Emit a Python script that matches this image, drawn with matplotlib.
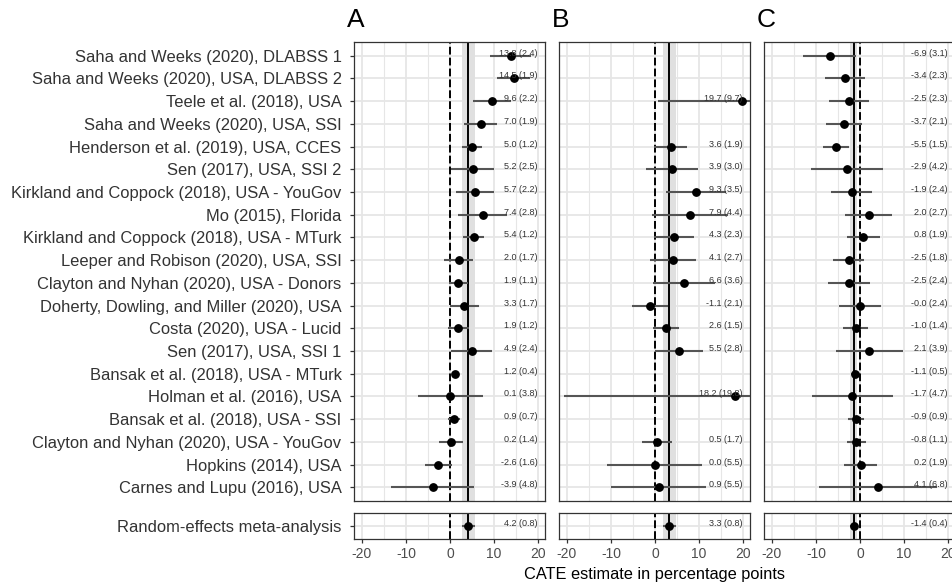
import matplotlib
matplotlib.use("Agg")
import matplotlib.pyplot as plt
import numpy as np

plt.rcParams['font.family'] = ['Liberation Sans', 'DejaVu Sans']
plt.rcParams['axes.unicode_minus'] = False

studies = [
    "Saha and Weeks (2020), DLABSS 1",
    "Saha and Weeks (2020), USA, DLABSS 2",
    "Teele et al. (2018), USA",
    "Saha and Weeks (2020), USA, SSI",
    "Henderson et al. (2019), USA, CCES",
    "Sen (2017), USA, SSI 2",
    "Kirkland and Coppock (2018), USA - YouGov",
    "Mo (2015), Florida",
    "Kirkland and Coppock (2018), USA - MTurk",
    "Leeper and Robison (2020), USA, SSI",
    "Clayton and Nyhan (2020), USA - Donors",
    "Doherty, Dowling, and Miller (2020), USA",
    "Costa (2020), USA - Lucid",
    "Sen (2017), USA, SSI 1",
    "Bansak et al. (2018), USA - MTurk",
    "Holman et al. (2016), USA",
    "Bansak et al. (2018), USA - SSI",
    "Clayton and Nyhan (2020), USA - YouGov",
    "Hopkins (2014), USA",
    "Carnes and Lupu (2016), USA",
]
meta_label = "Random-effects meta-analysis"
panel_names = ["A", "B", "C"]

nan = np.nan
est_a = [13.8, 14.5, 9.6, 7.0, 5.0, 5.2, 5.7, 7.4, 5.4, 2.0,
         1.9, 3.3, 1.9, 4.9, 1.2, 0.1, 0.9, 0.2, -2.6, -3.9]
se_a = [2.4, 1.9, 2.2, 1.9, 1.2, 2.5, 2.2, 2.8, 1.2, 1.7,
        1.1, 1.7, 1.2, 2.4, 0.4, 3.8, 0.7, 1.4, 1.6, 4.8]
est_b = [nan, nan, 19.7, nan, 3.6, 3.9, 9.3, 7.9, 4.3, 4.1,
         6.6, -1.1, 2.6, 5.5, nan, 18.2, nan, 0.5, 0.0, 0.9]
se_b = [nan, nan, 9.7, nan, 1.9, 3.0, 3.5, 4.4, 2.3, 2.7,
        3.6, 2.1, 1.5, 2.8, nan, 19.8, nan, 1.7, 5.5, 5.5]
est_c = [-6.9, -3.4, -2.5, -3.7, -5.5, -2.9, -1.9, 2.0, 0.8, -2.5,
         -2.5, -0.0, -1.0, 2.1, -1.1, -1.7, -0.9, -0.8, 0.2, 4.1]
se_c = [3.1, 2.3, 2.3, 2.1, 1.5, 4.2, 2.4, 2.7, 1.9, 1.8,
        2.4, 2.4, 1.4, 3.9, 0.5, 4.7, 0.9, 1.1, 1.9, 6.8]
meta_est = [4.2, 3.3, -1.4]
meta_se = [0.8, 0.8, 0.4]

ests = [est_a, est_b, est_c]
ses = [se_a, se_b, se_c]

W, H = 952, 586
fig = plt.figure(figsize=(W / 100, H / 100), dpi=100)

grid_col = "#E6E6E6"
bar_col = "#555555"
txt_col = "#333333"
xlim = (-21.8, 21.6)
n = len(studies)
rows = np.arange(n, 0, -1)


def style(ax):
    ax.set_xlim(*xlim)
    ax.set_xticks([-20, -10, 0, 10, 20])
    ax.set_xticks([-15, -5, 5, 15], minor=True)
    ax.grid(True, which="major", color=grid_col, lw=1.3, zorder=0)
    ax.grid(True, which="minor", axis="x", color=grid_col, lw=0.8, zorder=0)
    ax.set_axisbelow(True)
    for s in ax.spines.values():
        s.set_color("#333333")
        s.set_linewidth(0.9)
    ax.tick_params(which="minor", length=0)
    ax.tick_params(which="major", length=3, width=0.9, color="#333333",
                   labelsize=10, labelcolor="#4D4D4D", pad=3)


for i in range(3):
    left = (354 + 205 * i) / W
    w = 191 / W
    ax = fig.add_axes([left, 1 - 501 / H, w, (501 - 42) / H])
    axm = fig.add_axes([left, 1 - 539 / H, w, (539 - 513) / H])
    e = np.array(ests[i], dtype=float)
    s = np.array(ses[i], dtype=float)
    m, ms = meta_est[i], meta_se[i]

    for a in (ax, axm):
        style(a)
        a.axvspan(m - 1.96 * ms, m + 1.96 * ms, color="#E0E0E0", zorder=1, lw=0)
        a.axvline(0, color="black", lw=1.4, ls=(0, (4, 1.6)), zorder=2)
        a.axvline(m, color="black", lw=1.4, zorder=2)

    ok = ~np.isnan(e)
    ax.hlines(rows[ok], e[ok] - 1.96 * s[ok], e[ok] + 1.96 * s[ok],
              color=bar_col, lw=1.5, zorder=3)
    ax.plot(e[ok], rows[ok], "o", color="black", ms=5.3, zorder=4)
    for y, v, se in zip(rows[ok], e[ok], s[ok]):
        ax.text(20, y, f"{v:.1f} ({se:.1f})", ha="right", va="baseline",
                fontsize=6.5, color=txt_col, zorder=5)
    ax.set_ylim(0.4, n + 0.6)
    ax.set_yticks(rows)
    ax.tick_params(axis="x", length=0, labelbottom=False)

    axm.hlines([1], m - 1.96 * ms, m + 1.96 * ms, color=bar_col, lw=1.5, zorder=3)
    axm.plot([m], [1], "o", color="black", ms=5.3, zorder=4)
    axm.text(20, 1, f"{m:.1f} ({ms:.1f})", ha="right", va="baseline",
             fontsize=6.5, color=txt_col, zorder=5)
    axm.set_ylim(0.4, 1.6)
    axm.set_yticks([1])

    if i == 0:
        ax.set_yticklabels(studies, fontsize=11.9, color="#333333")
        axm.set_yticklabels([meta_label], fontsize=11.9, color="#333333")
        ax.tick_params(axis="y", pad=6)
        axm.tick_params(axis="y", pad=6)
    else:
        ax.tick_params(axis="y", length=0, labelleft=False)
        axm.tick_params(axis="y", length=0, labelleft=False)

    fig.text(left - 7 / W, 1 - 20 / H, panel_names[i], fontsize=19,
             ha="left", va="center", color="black")

fig.text(655 / W, 1 - 575 / H, "CATE estimate in percentage points",
         ha="center", va="center", fontsize=11.8, color="black")

fig.savefig("out.png", dpi=100)
